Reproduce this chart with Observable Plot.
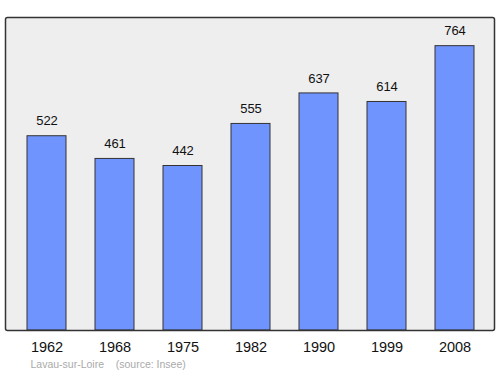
<!DOCTYPE html>
<html><head><meta charset="utf-8">
<script src="https://cdn.jsdelivr.net/npm/d3@7"></script>
<script src="https://cdn.jsdelivr.net/npm/@observablehq/plot@0.6"></script>
<style>
html,body{margin:0;padding:0;background:#fff;}
svg{display:block;}
</style>
</head><body>
<div id="chart"></div>
<script>
const years = ["1962","1968","1975","1982","1990","1999","2008"];
const population = [522, 461, 442, 555, 637, 614, 764];
const caption = "Lavau-sur-Loire    (source: Insee)";

const data = years.map((y, i) => ({year: y, pop: population[i]}));

const chart = Plot.plot({
  width: 500,
  height: 374,
  marginTop: 17,
  marginBottom: 44,
  marginLeft: 5,
  marginRight: 6,
  style: {fontFamily: "'Liberation Sans', Arial, sans-serif", background: "#fff"},
  x: {domain: years, range: [11.25, 490.75], paddingInner: 0.42, paddingOuter: 0.21, label: null},
  y: {domain: [0, 841], axis: null},
  marks: [
    Plot.frame({fill: "#eeeeee", stroke: "none"}),
    Plot.barY(data, {x: "year", y: "pop", fill: "#7094fd", stroke: "#333", strokeWidth: 1}),
    Plot.text(data, {x: "year", y: "pop", text: d => String(d.pop), dy: -15, fontSize: 13, fill: "#111"}),
    Plot.frame({stroke: "#333", strokeWidth: 1.5, rx: 2}),
    Plot.axisX({tickSize: 0, tickPadding: 11, fontSize: 14.5, fill: "#111", label: null}),
    Plot.text([caption], {frameAnchor: "bottom-left", dx: 25, dy: 37, text: d => d, fontSize: 10.5, fill: "#aaa", textAnchor: "start"})
  ]
});
document.getElementById("chart").append(chart);
</script>
</body></html>
